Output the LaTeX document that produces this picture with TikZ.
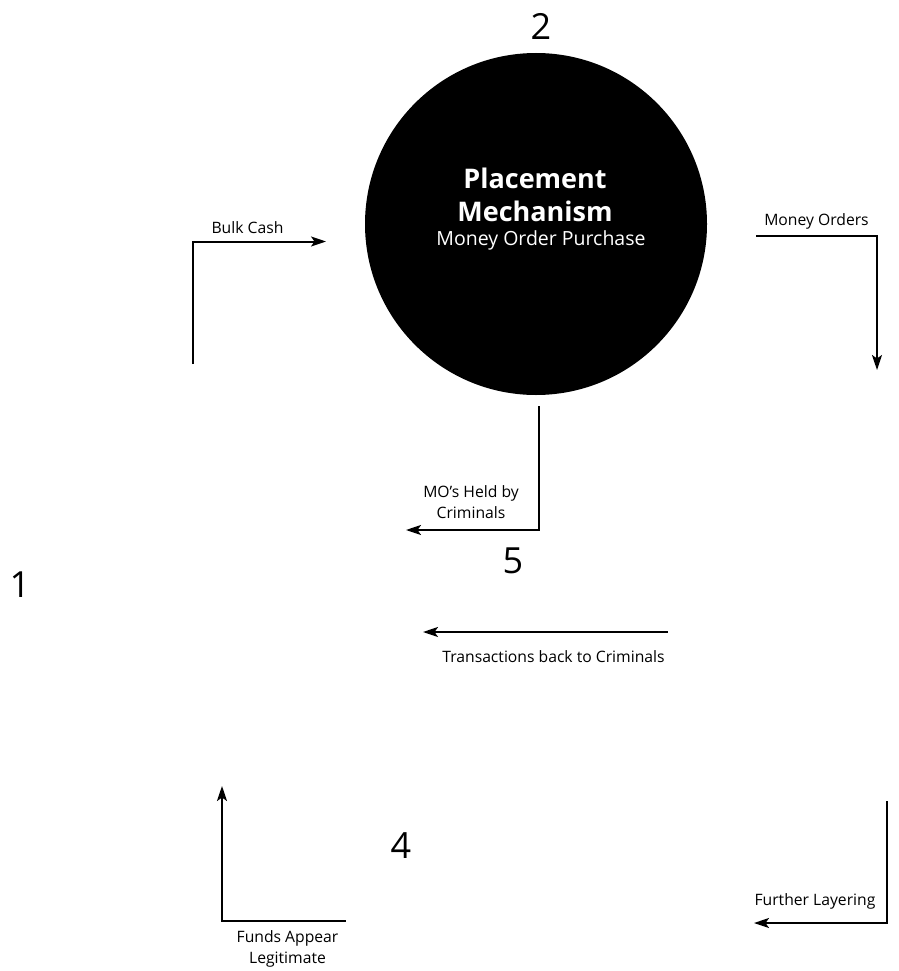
\documentclass[tikz,border=0pt]{standalone}
\usepackage{fontspec}
\setmainfont{Open Sans}
\usetikzlibrary{arrows.meta}
\begin{document}
\begin{tikzpicture}[x=1pt,y=-1pt,
  conn/.style={line width=2pt,-{Stealth[length=15pt,width=10pt,inset=3.5pt]}},
  lbl/.style={font=\fontsize{15.7}{21}\selectfont,align=center,inner sep=0pt},
  num/.style={font=\fontsize{36}{38}\selectfont,inner sep=0pt}]
\useasboundingbox (0,0) rectangle (898,971);
% numbers
\node[num] (n2) at (541,26) {2};
\node[num] (n1) at (20,585) {1};
\node[num] (n5) at (513,561) {5};
\node[num] (n4) at (401,846) {4};
% circle
\node[circle,fill=black,minimum size=342pt,inner sep=0pt] (pm) at (536,224) {};
\node[text=white,font=\bfseries\fontsize{27}{32}\selectfont,inner sep=0pt] (t1) at (535,178) {Placement};
\node[text=white,font=\bfseries\fontsize{27}{32}\selectfont,inner sep=0pt] (t2) at (535,211) {Mechanism};
\node[text=white,font=\fontsize{19.5}{22}\selectfont,inner sep=0pt] (t3) at (541,240) {Money Order Purchase};
% Bulk Cash
\coordinate (bc0) at (193,364);
\coordinate (bc1) at (193,241.5);
\coordinate (bc2) at (326,241.5);
\draw[conn] (bc0) -- (bc1) -- (bc2);
\node[lbl] (lbc) at (247.5,228) {Bulk Cash};
% Money Orders
\coordinate (mo0) at (756,235.5);
\coordinate (mo1) at (877,235.5);
\coordinate (mo2) at (877,370);
\draw[conn] (mo0) -- (mo1) -- (mo2);
\node[lbl] (lmo) at (816.5,221) {Money Orders};
% MO's Held
\coordinate (mh0) at (538.7,406);
\coordinate (mh1) at (538.7,530);
\coordinate (mh2) at (406,530);
\draw[conn] (mh0) -- (mh1) -- (mh2);
\node[lbl] (lmh) at (471,502) {MO's Held by\\Criminals};
% Transactions
\coordinate (tr0) at (667.5,632);
\coordinate (tr1) at (423,632);
\draw[conn] (tr0) -- (tr1);
\node[lbl] (ltr) at (553.5,657) {Transactions back to Criminals};
% Funds Appear
\coordinate (fa0) at (345.5,921);
\coordinate (fa1) at (222,921);
\coordinate (fa2) at (222,786);
\draw[conn] (fa0) -- (fa1) -- (fa2);
\node[lbl] (lfa) at (287.5,949) {Funds Appear\\Legitimate};
% Further Layering
\coordinate (fl0) at (886.5,801);
\coordinate (fl1) at (886.5,923);
\coordinate (fl2) at (754,923);
\draw[conn] (fl0) -- (fl1) -- (fl2);
\node[lbl] (lfl) at (815,901.5) {Further Layering};
\end{tikzpicture}
\end{document}
